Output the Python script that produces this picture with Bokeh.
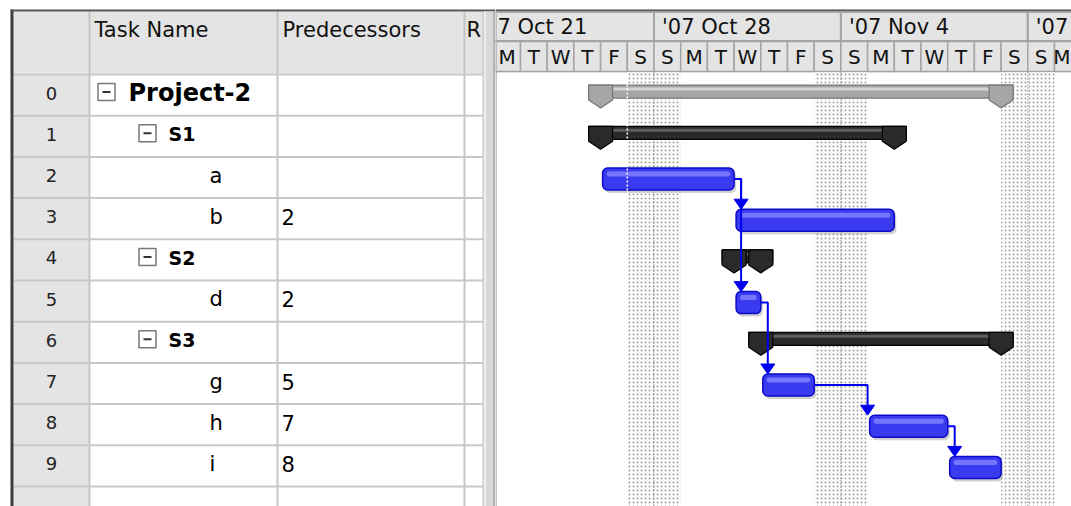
import pandas as pd
from bokeh.plotting import figure
from bokeh.layouts import row
from bokeh.models import Range1d
from bokeh.embed import file_html
from bokeh.resources import INLINE
from bokeh.core.properties import value

# ---------------- data ----------------
row_ids      = [0, 1, 2, 3, 4, 5, 6, 7, 8, 9]
task_names   = ["Project-2", "S1", "a", "b", "S2", "d", "S3", "g", "h", "i"]
outline_lvls = [0, 1, 2, 2, 1, 2, 1, 2, 2, 2]
is_summary   = [True, True, False, False, True, False, True, False, False, False]
predecessors = ["", "", "", "2", "", "2", "", "5", "7", "8"]
start_dates  = ["2007-10-26", "2007-10-26", "2007-10-26", "2007-10-31", "2007-10-31",
                "2007-10-31", "2007-11-01", "2007-11-01", "2007-11-05", "2007-11-08"]
finish_dates = ["2007-11-09", "2007-11-05", "2007-10-30", "2007-11-05", "2007-10-31",
                "2007-10-31", "2007-11-09", "2007-11-02", "2007-11-07", "2007-11-09"]
column_headers = ["Task Name", "Predecessors", "R"]
week_starts  = ["2007-10-21", "2007-10-28", "2007-11-04", "2007-11-11"]
week_labels  = ["7 Oct 21", "'07 Oct 28", "'07 Nov 4", "'07"]   # as visible in the view
day_letters  = ["S", "M", "T", "W", "T", "F", "S"]   # Sunday .. Saturday
timeline_first, timeline_last = "2007-10-22", "2007-11-12"
weekend_starts = ["2007-10-27", "2007-11-03", "2007-11-10"]
marker_date  = "2007-10-27"

# ---------------- layout helpers ----------------
BASE = pd.Timestamp(week_starts[0])
def dnum(s):
    return (pd.Timestamp(s) - BASE) / pd.Timedelta(days=1)

W_TABLE, W_GANTT, H = 495, 576, 506
DAY_PX, ROW_PX = 26.7, 41.2
ROW0_TOP, FIG_TOP = 74.0, 0.0
GANTT_LEFT, DAY0_X = 495.0, 466.6

def Y(py):
    return -0.5 + (py - ROW0_TOP) / ROW_PX

y_top = Y(FIG_TOP)
y_bot = Y(FIG_TOP + H)
kx = 1.0 / DAY_PX
ky = 1.0 / ROW_PX
gx0 = (GANTT_LEFT - DAY0_X) / DAY_PX
gx1 = gx0 + W_GANTT / DAY_PX
FONT = value("DejaVu Sans")

def base_fig(w, xr):
    p = figure(width=w, height=H, x_range=xr, y_range=Range1d(y_bot, y_top),
               output_backend="svg", toolbar_location=None, min_border=0,
               x_axis_location=None, y_axis_location=None)
    p.grid.visible = False
    p.outline_line_color = None
    p.background_fill_color = "white"
    p.border_fill_color = "white"
    return p

# ================= table (left) =================
pt = base_fig(W_TABLE, Range1d(0, W_TABLE))
pt.quad(left=13, right=483, top=Y(11), bottom=Y(73), fill_color="#e4e4e4", line_color=None)
body_rows = list(range(11))
pt.quad(left=13, right=89, top=[r - 0.5 for r in body_rows], bottom=[r + 0.5 for r in body_rows],
        fill_color="#e4e4e4", line_color=None)
col_edges = [89, 277, 464, 483]
pt.segment(x0=col_edges, x1=col_edges, y0=[Y(11)] * 4, y1=[y_bot] * 4,
           line_color="#c6c6c6", line_width=2)
hl = [-0.5] + [r + 0.5 for r in body_rows]
pt.segment(x0=[13] * len(hl), x1=[483] * len(hl), y0=hl, y1=hl, line_color="#c8c8c8", line_width=2)
pt.quad(left=10, right=13, top=Y(9), bottom=y_bot, fill_color="#3c3c3c", line_color=None)
pt.quad(left=10, right=W_TABLE, top=Y(9), bottom=Y(11), fill_color="#555555", line_color=None)
pt.quad(left=483, right=495, top=Y(11), bottom=y_bot, fill_color="#d8d8d8", line_color=None)
pt.segment(x0=[484.5, 493.5], x1=[484.5, 493.5], y0=[Y(11)] * 2, y1=[y_bot] * 2,
           line_color=["#f4f4f4", "#a8a8a8"], line_width=1.5)

pt.text(x=[94, 282, 466], y=[Y(29)] * 3, text=column_headers, text_font=FONT,
        text_font_size="21px", text_baseline="middle", text_align="left", text_color="#111111")

pt.text(x=[51] * len(row_ids), y=[r - 2 * ky for r in row_ids], text=[str(r) for r in row_ids],
        text_font=FONT, text_font_size="18px", text_baseline="middle", text_align="center",
        text_color="#222222")

name_x = [128, 168, 209]
name_size = ["24px", "19px", "21px"]
sum_idx = [i for i in row_ids if is_summary[i]]
leaf_idx = [i for i in row_ids if not is_summary[i]]
pt.text(x=[name_x[outline_lvls[i]] for i in sum_idx], y=[i - 2 * ky for i in sum_idx],
        text=[task_names[i] for i in sum_idx], text_font_size=[name_size[outline_lvls[i]] for i in sum_idx],
        text_font=FONT, text_font_style="bold", text_baseline="middle", text_align="left", text_color="black")
pt.text(x=[name_x[outline_lvls[i]] for i in leaf_idx], y=[i - 2 * ky for i in leaf_idx],
        text=[task_names[i] for i in leaf_idx], text_font_size="21px",
        text_font=FONT, text_baseline="middle", text_align="left", text_color="black")
icon_x = [106, 147]
pt.rect(x=[icon_x[outline_lvls[i]] for i in sum_idx], y=[i - 3 * ky for i in sum_idx], width=17, height=17,
        width_units="screen", height_units="screen", fill_color="white", line_color="#777777", line_width=1.5)
pt.rect(x=[icon_x[outline_lvls[i]] for i in sum_idx], y=[i - 3 * ky for i in sum_idx], width=8, height=2,
        width_units="screen", height_units="screen", fill_color="#333333", line_color=None)
pred_idx = [i for i in row_ids if predecessors[i]]
pt.text(x=[281] * len(pred_idx), y=[i - 2 * ky for i in pred_idx], text=[predecessors[i] for i in pred_idx],
        text_font=FONT, text_font_size="21px", text_baseline="middle", text_align="left", text_color="black")

# ================= gantt (right) =================
pg = base_fig(W_GANTT, Range1d(gx0, gx1))
days = pd.date_range(timeline_first, timeline_last)
dx = [dnum(d) for d in days]
letters = [day_letters[(d.weekday() + 1) % 7] for d in days]
wx = [dnum(w) for w in week_starts]

pg.quad(left=gx0, right=gx1, top=Y(9), bottom=Y(72), fill_color="#e4e4e4", line_color=None)
pg.quad(left=gx0, right=gx1, top=Y(9), bottom=Y(11), fill_color="#555555", line_color=None)
pg.quad(left=wx, right=[w + 7 for w in wx], top=Y(11.5), bottom=Y(40.5),
        fill_color="#e4e4e4", line_color="#a4a4a4", line_width=2)
pg.quad(left=dx, right=[d + 1 for d in dx], top=Y(41), bottom=Y(71),
        fill_color="#e4e4e4", line_color="#a4a4a4", line_width=1.5)
label_x = [max(w + 8 * kx, gx0 + 2 * kx) for w in wx]
pg.text(x=label_x, y=[Y(26)] * len(wx), text=week_labels, text_font=FONT,
        text_font_size="21px", text_baseline="middle", text_align="left", text_color="#111111")
letter_x = [min(d + 0.5, gx1 - 9.5 * kx) for d in dx]
pg.text(x=letter_x, y=[Y(56)] * len(dx), text=letters, text_font=FONT,
        text_font_size="20px", text_baseline="middle", text_align="center", text_color="#111111")
pg.segment(x0=gx0 + 0.5 * kx, x1=gx0 + 0.5 * kx, y0=Y(11), y1=y_bot, line_color="#b0b0b0", line_width=1.5)

# non-working time
we = [dnum(w) for w in weekend_starts]
pg.quad(left=we, right=[w + 2 for w in we], top=Y(72), bottom=y_bot, fill_color="white",
        line_color=None, hatch_pattern=".", hatch_color="#a0a0a0", hatch_scale=4, hatch_weight=1.3)
pg.segment(x0=[w + 1 for w in we], x1=[w + 1 for w in we], y0=[Y(72)] * 3, y1=[y_bot] * 3,
           line_color="#777777", line_width=1.2, line_dash="1 2")

sd = [dnum(s) for s in start_dates]
ed = [dnum(f) + 1 for f in finish_dates]

# summary bars
proj = [i for i in sum_idx if outline_lvls[i] == 0]
subs = [i for i in sum_idx if outline_lvls[i] == 1]
for grp, fill, line, hi in [(proj, "#a6a6a6", "#777777", "#d4d4d4"), (subs, "#2a2a2a", "#000000", "#5e5e5e")]:
    pg.quad(left=[sd[i] - 12 * kx for i in grp], right=[ed[i] + 12 * kx for i in grp],
            top=[i - 10 * ky for i in grp], bottom=[i + 3 * ky for i in grp],
            fill_color=fill, line_color=line, line_width=1.2)
    pg.quad(left=[sd[i] - 10 * kx for i in grp], right=[ed[i] + 10 * kx for i in grp],
            top=[i - 7.5 * ky for i in grp], bottom=[i - 4.5 * ky for i in grp],
            fill_color=hi, line_color=None)
    cxs, cys = [], []
    for i in grp:
        for d in (sd[i], ed[i]):
            cxs.append([d - 12 * kx, d + 12 * kx, d + 12 * kx, d, d - 12 * kx])
            cys.append([i - 10 * ky, i - 10 * ky, i + 5 * ky, i + 13 * ky, i + 5 * ky])
    pg.patches(xs=cxs, ys=cys, fill_color=fill, line_color=line, line_width=1.2)

# task bars
yb = [i + 1.5 * ky for i in leaf_idx]
pg.hbar(y=[y + 3 * ky for y in yb], height=22 * ky, left=[sd[i] + 4 * kx for i in leaf_idx],
        right=[ed[i] + 2 * kx for i in leaf_idx], fill_color="#9a9a9a", fill_alpha=0.45,
        line_color=None, border_radius=5)
pg.hbar(y=yb, height=22 * ky, left=[sd[i] + 2 * kx for i in leaf_idx], right=[ed[i] for i in leaf_idx],
        fill_color="#3a3af0", line_color="#0a0ac8", line_width=1.5, border_radius=5)
pg.hbar(y=[y - 5 * ky for y in yb], height=5 * ky, left=[sd[i] + 6 * kx for i in leaf_idx],
        right=[ed[i] - 4 * kx for i in leaf_idx], fill_color="#8080ff", fill_alpha=0.85,
        line_color=None, border_radius=2)

md = dnum(marker_date)
pg.segment(x0=md, x1=md, y0=Y(72), y1=y_bot, line_color="white", line_width=1.5, line_dash="2 2")

# links
lx, ly, ax, ay = [], [], [], []
for j in row_ids:
    if not predecessors[j]:
        continue
    for pstr in predecessors[j].split(","):
        i = int(pstr)
        py = i + 1.5 * ky
        top = j + 1.5 * ky - 11 * ky
        xv = max(ed[i] + 7 * kx, sd[j])
        lx.append([ed[i], xv, xv])
        ly.append([py, py, top - 8 * ky])
        ax.append([xv - 7 * kx, xv + 7 * kx, xv])
        ay.append([top - 10 * ky, top - 10 * ky, top])
pg.multi_line(xs=lx, ys=ly, line_color="#0000f0", line_width=2)
pg.patches(xs=ax, ys=ay, fill_color="#0000f0", line_color="#0000f0", line_width=1)

layout = row(pt, pg)
open("out.html", "w").write(file_html(layout, INLINE))
